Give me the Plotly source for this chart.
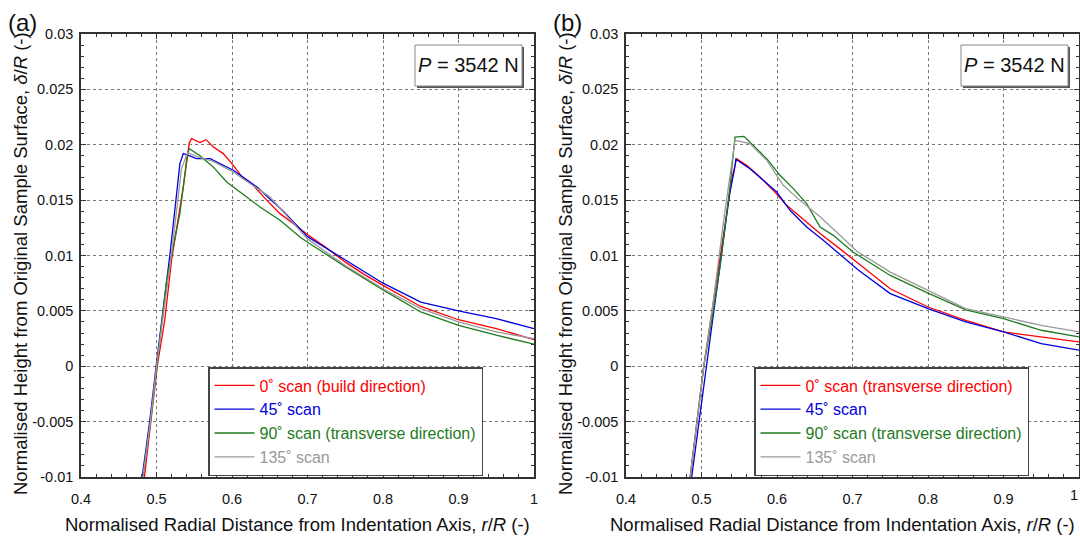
import plotly.graph_objects as go

# ---------------- data ----------------
# Panel (a)
a_red_r = [0.484, 0.493, 0.501, 0.511, 0.520, 0.5355, 0.5435, 0.5466, 0.5576, 0.5656, 0.5753, 0.5885,
           0.6017, 0.615, 0.628, 0.646, 0.6636, 0.681, 0.700, 0.725, 0.750, 0.775, 0.800, 0.850, 0.900, 0.950, 1.000]
a_red_d = [-0.01, -0.005, 0.0, 0.0042, 0.0096, 0.0162, 0.0202, 0.02055, 0.0202, 0.02046, 0.0198, 0.0192,
           0.01814, 0.01694, 0.01634, 0.0150, 0.01378, 0.01288, 0.0119, 0.0107, 0.0094, 0.0083, 0.0073, 0.0054, 0.0042, 0.0034, 0.0024]

a_blue_r = [0.481, 0.491, 0.4995, 0.508, 0.518, 0.531, 0.5355, 0.544, 0.553, 0.571, 0.6017, 0.6327, 0.668,
            0.700, 0.750, 0.800, 0.850, 0.900, 0.950, 1.000]
a_blue_d = [-0.01, -0.005, 0.0, 0.0048, 0.0102, 0.0183, 0.0192, 0.0190, 0.01874, 0.01874, 0.0177, 0.0162, 0.0140,
            0.0117, 0.0096, 0.0075, 0.0058, 0.0050, 0.0043, 0.0034]

a_green_r = [0.482, 0.492, 0.5005, 0.5135, 0.531, 0.541, 0.5435, 0.5576, 0.575, 0.593, 0.6106, 0.637, 0.6636,
             0.690, 0.700, 0.750, 0.800, 0.850, 0.900, 0.950, 1.000]
a_green_d = [-0.01, -0.005, 0.0, 0.0078, 0.0138, 0.0192, 0.01965, 0.0190, 0.0180, 0.01664, 0.01573, 0.01438, 0.01318,
             0.01167, 0.0112, 0.0090, 0.0069, 0.0049, 0.0037, 0.0028, 0.0020]

a_grey_r = [0.482, 0.492, 0.500, 0.509, 0.520, 0.533, 0.541, 0.555, 0.575, 0.600, 0.650, 0.700, 0.750,
            0.800, 0.850, 0.900, 0.950, 1.000]
a_grey_d = [-0.01, -0.005, 0.0, 0.0048, 0.0102, 0.0178, 0.0193, 0.0189, 0.0185, 0.0176, 0.0153, 0.0115, 0.0091,
            0.0070, 0.0052, 0.0040, 0.0031, 0.0025]

# Panel (b)
b_red_r = [0.485, 0.494, 0.503, 0.515, 0.528, 0.541, 0.5466, 0.5598, 0.5775, 0.595, 0.6128, 0.6305, 0.657,
           0.6834, 0.7055, 0.750, 0.800, 0.850, 0.900, 0.950, 1.000]
b_red_d = [-0.01, -0.005, 0.0, 0.0055, 0.0115, 0.0172, 0.01874, 0.01814, 0.01708, 0.01588, 0.01453, 0.01348, 0.01198,
           0.0106, 0.0094, 0.0070, 0.00535, 0.00415, 0.0031, 0.00265, 0.0022]

b_blue_r = [0.487, 0.4965, 0.506, 0.514, 0.522, 0.529, 0.537, 0.5435, 0.5455, 0.5642, 0.582, 0.5996, 0.6172,
            0.6393, 0.6613, 0.6834, 0.7077, 0.750, 0.800, 0.850, 0.900, 0.950, 1.000]
b_blue_d = [-0.01, -0.005, 0.0, 0.0038, 0.0078, 0.0114, 0.0155, 0.0177, 0.0187, 0.01784, 0.0168, 0.01573, 0.01408,
            0.01257, 0.01137, 0.0101, 0.0087, 0.00656, 0.0052, 0.0040, 0.0031, 0.00205, 0.00145]

b_green_r = [0.485, 0.494, 0.503, 0.5135, 0.5245, 0.5377, 0.5444, 0.5563, 0.5686, 0.5864, 0.604, 0.6216, 0.6393,
             0.657, 0.6746, 0.701, 0.750, 0.800, 0.850, 0.900, 0.950, 1.000]
b_green_d = [-0.01, -0.005, 0.0, 0.00415, 0.00896, 0.0162, 0.0207, 0.02076, 0.01995, 0.01874, 0.01724, 0.01604, 0.01468,
             0.01257, 0.01182, 0.0103, 0.0082, 0.0066, 0.0051, 0.0043, 0.00325, 0.00265]

b_grey_r = [0.485, 0.494, 0.503, 0.515, 0.530, 0.5444, 0.5642, 0.5864, 0.6084, 0.630, 0.657, 0.6834, 0.7055,
            0.750, 0.800, 0.850, 0.900, 0.950, 1.000]
b_grey_d = [-0.01, -0.005, 0.0, 0.0055, 0.0135, 0.0204, 0.0201, 0.0186, 0.01634, 0.0150, 0.0135, 0.01182, 0.0104,
            0.0085, 0.00686, 0.0052, 0.00445, 0.0037, 0.0031]

names_a = ["0˚ scan (build direction)", "45˚ scan", "90˚ scan (transverse direction)", "135˚ scan"]
names_b = ["0˚ scan (transverse direction)", "45˚ scan", "90˚ scan (transverse direction)", "135˚ scan"]

x_ticks = [0.4, 0.5, 0.6, 0.7, 0.8, 0.9, 1.0]
x_ticktext = ["0.4", "0.5", "0.6", "0.7", "0.8", "0.9", "1"]
y_ticks = [0.03, 0.025, 0.02, 0.015, 0.01, 0.005, 0.0, -0.005, -0.01]
y_ticktext = ["0.03", "0.025", "0.02", "0.015", "0.01", "0.005", "0", "-0.005", "-0.01"]

load_text = "<i>P</i> = 3542 N"

# ---------------- styling ----------------
colors = ["#FF0000", "#0000DD", "#1E7B1E", "#9A9A9A"]
FONT = "Liberation Sans, Arial, sans-serif"
W, H = 1080, 538

def px_x(p):
    return p / W

def px_y(p):
    return 1 - p / H

fig = go.Figure()

series_a = [(a_red_r, a_red_d), (a_blue_r, a_blue_d), (a_green_r, a_green_d), (a_grey_r, a_grey_d)]
series_b = [(b_red_r, b_red_d), (b_blue_r, b_blue_d), (b_green_r, b_green_d), (b_grey_r, b_grey_d)]

for i, (r, d) in enumerate(series_a):
    fig.add_trace(go.Scatter(
        x=r, y=d, mode="lines", xaxis="x", yaxis="y", legend="legend",
        line=dict(color=colors[i], width=1.3),
        name=f"<span style='color:{colors[i]}'>{names_a[i]}</span>"))
for i, (r, d) in enumerate(series_b):
    fig.add_trace(go.Scatter(
        x=r, y=d, mode="lines", xaxis="x2", yaxis="y2", legend="legend2",
        line=dict(color=colors[i], width=1.3),
        name=f"<span style='color:{colors[i]}'>{names_b[i]}</span>"))

def xaxis(domain, anchor, ticktext):
    return dict(domain=domain, anchor=anchor, range=[0.4, 1.0], automargin=False,
                tickvals=x_ticks, ticktext=ticktext, ticks="inside", ticklen=5,
                tickcolor="#333", showline=True, linecolor="#333", linewidth=1.5, mirror="ticks",
                showgrid=True, gridcolor="#777", griddash="dot", gridwidth=1,
                zeroline=False, ticklabelstandoff=8,
                minor=dict(dtick=0.02, ticks="inside", ticklen=3, tickcolor="#333", showgrid=False),
                tickfont=dict(family=FONT, size=14.5, color="#111"))

def yaxis(domain, anchor):
    return dict(domain=domain, anchor=anchor, range=[-0.01, 0.03], automargin=False,
                tickvals=y_ticks, ticktext=y_ticktext, ticks="inside", ticklen=5,
                tickcolor="#333", showline=True, linecolor="#333", linewidth=1.5, mirror="ticks",
                showgrid=True, gridcolor="#777", griddash="dot", gridwidth=1,
                zeroline=False, ticklabelstandoff=3,
                minor=dict(dtick=0.001, ticks="inside", ticklen=3, tickcolor="#333", showgrid=False),
                tickfont=dict(family=FONT, size=14.5, color="#111"))

ydom = [px_y(477), px_y(34)]
legend_common = dict(xanchor="left", yanchor="top", bgcolor="white", bordercolor="#444", borderwidth=1.5,
                     font=dict(family=FONT, size=16), tracegroupgap=0, itemwidth=40)
# right panel: last tick label ("1") sits on the page edge; drawn as an annotation below
x_ticktext_b = x_ticktext[:-1] + [""]
fig.update_layout(
    width=W, height=H, margin=dict(l=0, r=0, t=0, b=0, autoexpand=False),
    paper_bgcolor="white", plot_bgcolor="white",
    font=dict(family=FONT, color="#111"),
    xaxis=xaxis([px_x(81), px_x(534)], "y", x_ticktext),
    yaxis=yaxis(ydom, "x"),
    xaxis2=xaxis([px_x(626), px_x(1079)], "y2", x_ticktext_b),
    yaxis2=yaxis(ydom, "x2"),
    legend=dict(x=px_x(208), y=px_y(367), **legend_common),
    legend2=dict(x=px_x(754), y=px_y(367), **legend_common),
    showlegend=True,
)

shapes = []
annotations = []
for (x0, x1) in [(415, 522), (961, 1068)]:
    shapes.append(dict(type="rect", xref="paper", yref="paper",
                       x0=px_x(x0 + 2), x1=px_x(x1 + 2), y0=px_y(88), y1=px_y(47),
                       fillcolor="#555", line=dict(width=0), layer="above"))
    shapes.append(dict(type="rect", xref="paper", yref="paper",
                       x0=px_x(x0), x1=px_x(x1), y0=px_y(86), y1=px_y(45),
                       fillcolor="white", line=dict(color="#888", width=1), layer="above"))
    annotations.append(dict(text=load_text, xref="paper", yref="paper",
                            x=px_x((x0 + x1) / 2), y=px_y(65.5), showarrow=False,
                            font=dict(family=FONT, size=20, color="#111"),
                            xanchor="center", yanchor="middle"))

# tick label "1" for the right panel, kept just inside the page edge
annotations.append(dict(text=x_ticktext[-1], xref="paper", yref="paper", x=1.0, y=px_y(477 + 8),
                        showarrow=False, xanchor="right", yanchor="top",
                        font=dict(family=FONT, size=14.5, color="#111")))

for (lbl, x) in [("(a)", 22), ("(b)", 567)]:
    annotations.append(dict(text=lbl, xref="paper", yref="paper", x=px_x(x), y=px_y(22),
                            showarrow=False, xanchor="center", yanchor="middle",
                            font=dict(family=FONT, size=24, color="#111")))

xtitle = "Normalised Radial Distance from Indentation Axis, <i>r</i>/<i>R</i> (-)"
ytitle = "Normalised Height from Original Sample Surface, <i>δ</i>/<i>R</i> (-)"
for cx in [297, 842]:
    annotations.append(dict(text=xtitle, xref="paper", yref="paper", x=px_x(cx), y=px_y(524),
                            showarrow=False, xanchor="center", yanchor="middle",
                            font=dict(family=FONT, size=18.5, color="#111")))
for cx in [20, 565]:
    annotations.append(dict(text=ytitle, xref="paper", yref="paper", x=px_x(cx), y=px_y(264),
                            showarrow=False, xanchor="center", yanchor="middle", textangle=-90,
                            font=dict(family=FONT, size=18.5, color="#111")))

fig.update_layout(shapes=shapes, annotations=annotations)
fig.write_html("out.html", config={"displayModeBar": False},
               post_script="document.body.style.margin='0';document.body.style.overflow='hidden';")
